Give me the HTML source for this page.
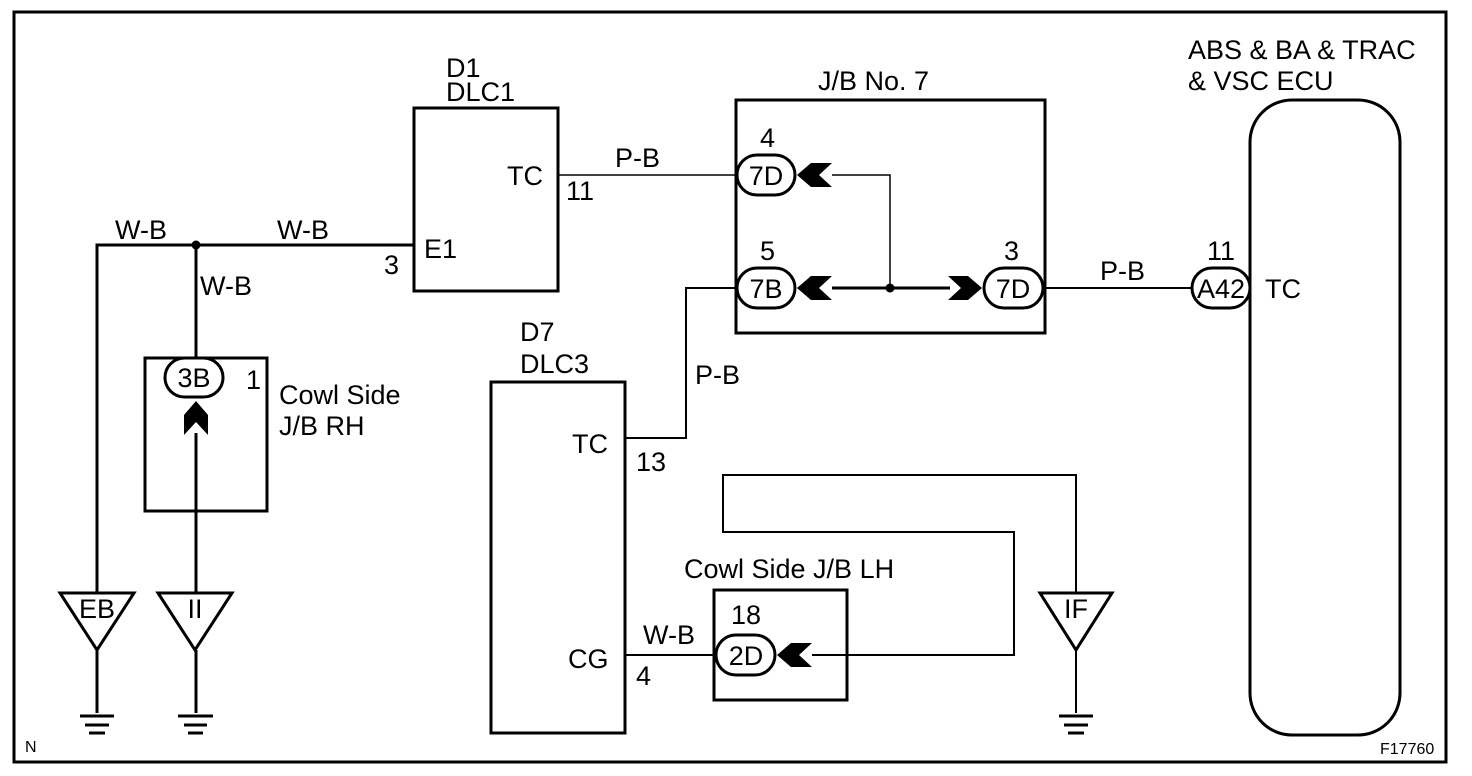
<!DOCTYPE html>
<html><head><style>
html,body{margin:0;padding:0;background:#fff;}
svg{display:block;}
text{font-family:"Liberation Sans",Arial,sans-serif;font-size:27px;fill:#000;}
</style></head><body>
<svg width="1472" height="776" viewBox="0 0 1472 776" xmlns="http://www.w3.org/2000/svg">
<g fill="none" stroke="#000">
<rect x="14" y="12" width="1432" height="750" stroke-width="3"/>
<rect x="414" y="108" width="144" height="183" stroke-width="3"/>
<rect x="145" y="358" width="122" height="153" stroke-width="3"/>
<rect x="736" y="100" width="309" height="233" stroke-width="3"/>
<rect x="1250" y="100" width="150" height="635" rx="42" stroke-width="3"/>
<rect x="491" y="382" width="134" height="351" stroke-width="3"/>
<rect x="714" y="590" width="133" height="110" stroke-width="3"/>

<polyline points="97,593 97,245 414,245" stroke-width="3"/>
<line x1="196" y1="245" x2="196" y2="358" stroke-width="3"/>
<line x1="196" y1="433" x2="196" y2="593" stroke-width="3"/>
<line x1="97" y1="650" x2="97" y2="713" stroke-width="3"/>
<line x1="196" y1="650" x2="196" y2="713" stroke-width="3"/>
<line x1="1076" y1="650" x2="1076" y2="713" stroke-width="2"/>
<line x1="558" y1="175" x2="737" y2="175" stroke-width="1.5"/>
<polyline points="832,175 890,175 890,288" stroke-width="1.5"/>
<line x1="832" y1="288" x2="950" y2="288" stroke-width="3"/>
<line x1="1045" y1="288" x2="1192" y2="288" stroke-width="2"/>
<polyline points="625,438 686,438 686,288 737,288" stroke-width="2"/>
<line x1="625" y1="655" x2="716" y2="655" stroke-width="2"/>
<polyline points="812,655 1014,655 1014,532 723,532 723,475 1076,475 1076,593" stroke-width="2"/>

<rect x="165" y="358" width="58" height="39" rx="19.5" stroke-width="3" fill="#fff"/>
<rect x="737" y="155" width="58" height="40" rx="20" stroke-width="3" fill="#fff"/>
<rect x="737" y="268" width="58" height="40" rx="20" stroke-width="3" fill="#fff"/>
<rect x="984" y="268" width="59" height="40" rx="20" stroke-width="3" fill="#fff"/>
<rect x="1192" y="268" width="58" height="40" rx="20" stroke-width="3" fill="#fff"/>
<rect x="716" y="635" width="59" height="40" rx="20" stroke-width="3" fill="#fff"/>

<polygon points="60,593 134,593 97,650" stroke-width="3"/>
<polygon points="158,593 232,593 195,650" stroke-width="3"/>
<polygon points="1040,593 1112,593 1076,650" stroke-width="3"/>
<g stroke-width="3">
<line x1="80" y1="716" x2="114" y2="716"/><line x1="85" y1="725" x2="109" y2="725"/><line x1="89" y1="733" x2="105" y2="733"/>
<line x1="178" y1="716" x2="213" y2="716"/><line x1="184" y1="725" x2="207" y2="725"/><line x1="188" y1="733" x2="203" y2="733"/>
<line x1="1059" y1="716" x2="1093" y2="716"/><line x1="1064" y1="725" x2="1088" y2="725"/><line x1="1068" y1="733" x2="1084" y2="733"/>
</g>
</g>
<circle cx="196" cy="245" r="4.5"/>
<circle cx="890" cy="288" r="4.5"/>
<g fill="#000">
<polygon points="797,175 811,163 832,163 819,175 832,187 811,187"/>
<polygon points="797,288 811,276 832,276 819,288 832,300 811,300"/>
<polygon points="982,288 968,276 948,276 961,288 948,300 968,300"/>
<polygon points="777,655 791,643 812,643 799,655 812,667 791,667"/>
<polygon points="196,401 184,415 184,435 196,422 208,435 208,415"/>
</g>

<text x="446" y="77">D1</text>
<text x="446" y="101">DLC1</text>
<text x="543" y="185" text-anchor="end">TC</text>
<text x="566" y="200">11</text>
<text x="424" y="258">E1</text>
<text x="384" y="274">3</text>
<text x="615" y="167">P-B</text>
<text x="115" y="239">W-B</text>
<text x="277" y="239">W-B</text>
<text x="200" y="295">W-B</text>
<text x="194" y="387" text-anchor="middle">3B</text>
<text x="246" y="389">1</text>
<text x="279" y="404">Cowl Side</text>
<text x="279" y="435">J/B RH</text>
<text x="97" y="618" text-anchor="middle">EB</text>
<text x="195" y="618" text-anchor="middle">II</text>
<text x="1076" y="618" text-anchor="middle">IF</text>
<text x="818" y="90">J/B No. 7</text>
<text x="760" y="147">4</text>
<text x="766" y="185" text-anchor="middle">7D</text>
<text x="760" y="260">5</text>
<text x="766" y="298" text-anchor="middle">7B</text>
<text x="1004" y="260">3</text>
<text x="1013" y="298" text-anchor="middle">7D</text>
<text x="1100" y="280">P-B</text>
<text x="1207" y="260">11</text>
<text x="1221" y="298" text-anchor="middle">A42</text>
<text x="1265" y="298">TC</text>
<text x="1188" y="59">ABS &amp; BA &amp; TRAC</text>
<text x="1188" y="90">&amp; VSC ECU</text>
<text x="520" y="341">D7</text>
<text x="520" y="373">DLC3</text>
<text x="572" y="453">TC</text>
<text x="636" y="471">13</text>
<text x="695" y="384">P-B</text>
<text x="568" y="668">CG</text>
<text x="643" y="644">W-B</text>
<text x="636" y="685">4</text>
<text x="684" y="578">Cowl Side J/B LH</text>
<text x="731" y="624">18</text>
<text x="746" y="665" text-anchor="middle">2D</text>
<text x="25" y="752" style="font-size:16px">N</text>
<text x="1380" y="754" style="font-size:16px">F17760</text>
</svg>
</body></html>
